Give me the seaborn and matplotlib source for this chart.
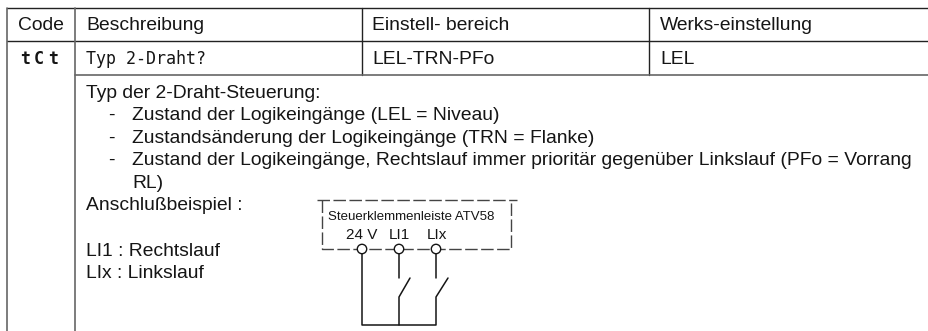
import matplotlib
matplotlib.use("Agg")
import matplotlib.pyplot as plt
import pandas as pd
import seaborn as sns
from matplotlib.patches import Circle

sns.set_theme(style="white")
plt.rcParams['font.family'] = ['Liberation Sans', 'DejaVu Sans']

W, H = 929, 331
INK = "#151515"
GREY = "#666666"

header_labels = ["Code", "Beschreibung", "Einstell- bereich", "Werks-einstellung"]
row_labels = ["LEL-TRN-PFo", "LEL"]
lcd_code = ["t", "C", "t"]
lcd_code_x = [25, 39, 53]
lcd_name = "Typ 2-Draht?"
body_lines = [
    (86, 97.5, "Typ der 2-Draht-Steuerung:"),
    (108, 120.1, "-"),
    (132, 120.1, "Zustand der Logikeingänge (LEL = Niveau)"),
    (108, 142.7, "-"),
    (132, 142.7, "Zustandsänderung der Logikeingänge (TRN = Flanke)"),
    (108, 165.3, "-"),
    (132, 165.3, "Zustand der Logikeingänge, Rechtslauf immer prioritär gegenüber Linkslauf (PFo = Vorrang"),
    (132, 187.9, "RL)"),
    (86, 210.5, "Anschlußbeispiel :"),
    (86, 255.7, "LI1 : Rechtslauf"),
    (86, 278.3, "LIx : Linkslauf"),
]
terminal_labels = [(362, 239, "24 V"), (399, 239, "LI1"), (437, 239, "LIx")]
strip_label = "Steuerklemmenleiste ATV58"

dark_segments = [
    [(7, 8), (929, 8)], [(7, 41), (929, 41)],
    [(362, 8), (362, 75)], [(649, 8), (649, 75)],
]
grey_segments = [
    [(75, 75), (929, 75)],
    [(7, 8), (7, 331)], [(75, 8), (75, 331)],
]
wire_segments = [
    [(362, 254), (362, 325), (436, 325), (436, 297), (448, 278)],
    [(399, 254), (399, 278)],
    [(399, 325), (399, 297), (410, 278)],
    [(436, 254), (436, 278)],
]
box_segments = [
    [(317, 200), (517, 200)],
    [(322, 200), (322, 249), (511, 249), (511, 200)],
]
terminals_x = [362, 399, 436]
terminal_y = 249


def frame(segments):
    rows = []
    for i, seg in enumerate(segments):
        for j, (x, y) in enumerate(seg):
            rows.append({"seg": i, "order": j, "x": x, "y": y})
    return pd.DataFrame(rows)


fig = plt.figure(figsize=(W / 100, H / 100), dpi=100)
ax = fig.add_axes([0, 0, 1, 1])

for segs, col, lw in ((dark_segments, "#222222", 1.0), (grey_segments, GREY, 1.2), (wire_segments, INK, 1.1)):
    sns.lineplot(data=frame(segs), x="x", y="y", units="seg", estimator=None,
                 sort=False, color=col, lw=lw, ax=ax, legend=False)
sns.lineplot(data=frame(box_segments), x="x", y="y", units="seg", estimator=None,
             sort=False, color="#444444", lw=1.0, ax=ax, legend=False, linestyle=(0, (9, 2.5)))

ax.set_xlim(0, W)
ax.set_ylim(H, 0)
ax.axis("off")

for x in terminals_x:
    ax.add_patch(Circle((x, terminal_y), 4.7, fc="white", ec=INK, lw=1.0, zorder=5))

FS = 13.85
ax.text(41, 30.5, header_labels[0], ha="center", va="baseline", fontsize=FS, color=INK)
for x, t in zip((86, 372, 660), header_labels[1:]):
    ax.text(x, 30.5, t, ha="left", va="baseline", fontsize=FS, color=INK)
for x, t in zip((372, 660), row_labels):
    ax.text(x, 64, t, ha="left", va="baseline", fontsize=FS, color=INK)
for x, t in zip(lcd_code_x, lcd_code):
    ax.text(x, 63.5, t, ha="center", va="baseline", fontsize=12,
            family="DejaVu Sans Mono", weight="bold", color=INK)
ax.text(86, 63.5, lcd_name, ha="left", va="baseline", fontsize=12,
        family="DejaVu Sans Mono", color=INK)
for x, y, t in body_lines:
    ax.text(x, y, t, ha="left", va="baseline", fontsize=FS, color=INK)
for x, y, t in terminal_labels:
    ax.text(x, y, t, ha="center", va="baseline", fontsize=11, color=INK)
ax.text(328, 220, strip_label, ha="left", va="baseline", fontsize=9.5, color=INK)

fig.savefig("out.png", dpi=100)
